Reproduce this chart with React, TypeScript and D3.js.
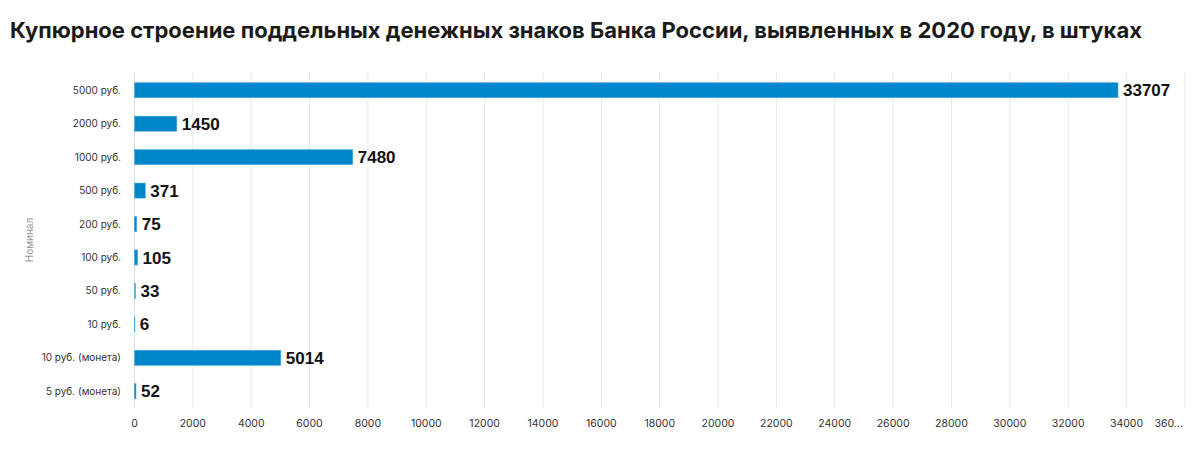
import React from "react";
import * as d3 from "d3";

const categories = [
  "5000 руб.",
  "2000 руб.",
  "1000 руб.",
  "500 руб.",
  "200 руб.",
  "100 руб.",
  "50 руб.",
  "10 руб.",
  "10 руб. (монета)",
  "5 руб. (монета)",
];
const values = [33707, 1450, 7480, 371, 75, 105, 33, 6, 5014, 52];
const xTicks = [0, 2000, 4000, 6000, 8000, 10000, 12000, 14000, 16000, 18000, 20000, 22000, 24000, 26000, 28000, 30000, 32000, 34000, 36000];
const xTickLabels = ["0", "2000", "4000", "6000", "8000", "10000", "12000", "14000", "16000", "18000", "20000", "22000", "24000", "26000", "28000", "30000", "32000", "34000", "360..."];

const title = "Купюрное строение поддельных денежных знаков Банка России, выявленных в 2020 году, в штуках";
const yTitle = "Номинал";

export default function App() {
  const W = 1200, H = 450;
  const left = 134.5, right = 1184.9, top = 73.5, bottom = 408;
  const x = d3.scaleLinear().domain([0, 36000]).range([left, right]);
  const y = d3.scaleBand<string>().domain(categories).range([top, bottom]).paddingInner(0.55).paddingOuter(0.275);
  const font = "Inter, 'Noto Sans', Roboto, sans-serif";
  const valueFont = "'Liberation Sans', Arial, sans-serif";
  const lastIdx = xTicks.length - 1;
  return (
    <svg width={W} height={H} style={{ position: "absolute", left: 0, top: 0, background: "#fff" }} fontFamily={font}>
      <text x={10} y={38} fontSize={22} fontWeight={700} fill="#1a1a1a">{title}</text>
      {xTicks.map((t) => (
        <line key={t} x1={x(t)} x2={x(t)} y1={72} y2={bottom} stroke="#e8e8e8" strokeWidth={1} />
      ))}
      <line x1={left} x2={left} y1={72} y2={bottom} stroke="#cfdff0" strokeWidth={1} />
      {xTicks.map((t, i) => (
        <text key={"l" + t} x={i === lastIdx ? x(t) - 2 : x(t)} y={427} fontSize={10.5} fill="#333" textAnchor={i === lastIdx ? "end" : "middle"}>{xTickLabels[i]}</text>
      ))}
      {categories.map((c, i) => {
        const yy = y(c)!;
        const bw = y.bandwidth();
        return (
          <g key={c}>
            <rect x={x(0)} y={yy} width={Math.max(x(values[i]) - x(0), 0.5)} height={bw} fill="#0087cb" stroke="#4aa8dc" strokeWidth={0.5} />
            <text x={121} y={yy + bw / 2} dy="0.35em" fontSize={10} fill="#333" textAnchor="end">{c}</text>
            <text x={x(values[i]) + 5} y={yy + bw / 2} dy="0.36em" fontSize={17} fontWeight={700} fill="#111" fontFamily={valueFont}>{values[i]}</text>
          </g>
        );
      })}
      <text transform={`translate(33,240) rotate(-90)`} fontSize={10} fill="#999" textAnchor="middle">{yTitle}</text>
    </svg>
  );
}
